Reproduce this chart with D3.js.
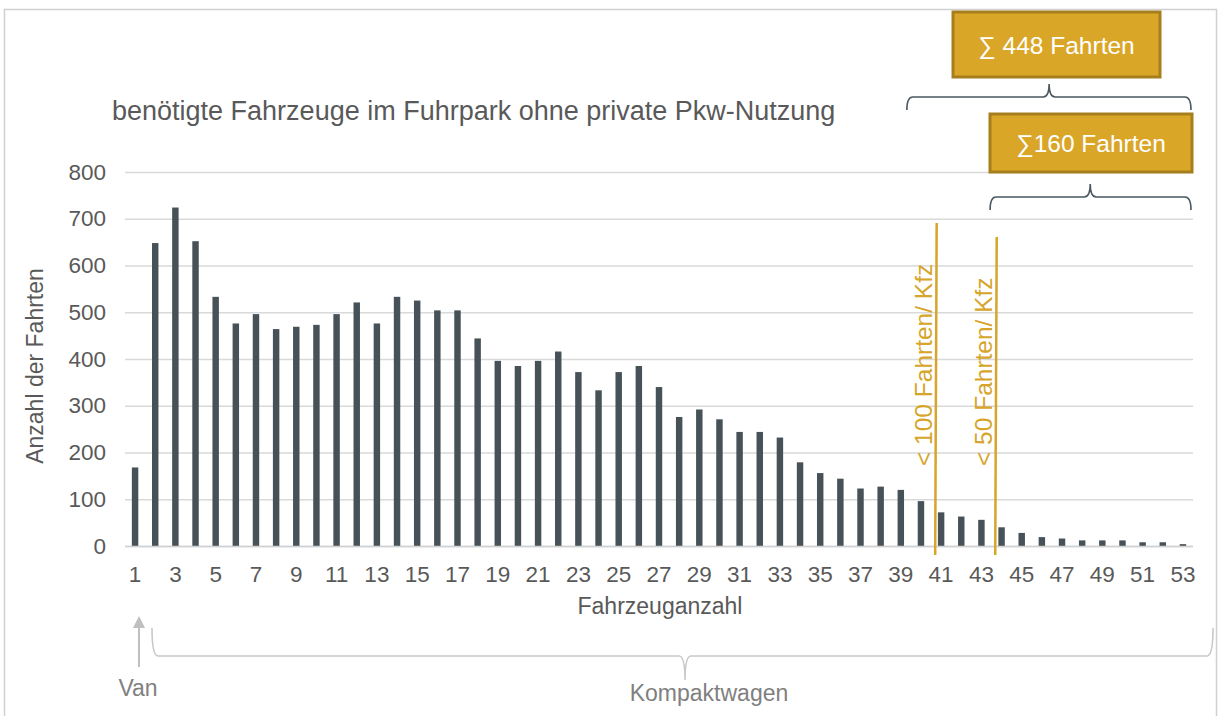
<!DOCTYPE html>
<meta charset="utf-8">
<style>
  body { margin: 0; background: #fff; }
  svg text { font-family: "Liberation Sans", Arial, sans-serif; }
  .tick text { fill: #595959; font-size: 22.5px; }
  .grid line { stroke: #d9d9d9; stroke-width: 1.3; }
  .gold { fill: #d6a52a; font-size: 24.5px; }
</style>
<script src="https://cdn.jsdelivr.net/npm/d3@7"></script>
<body>
<script>

  var w = 1219;
  var h = 716;

  // Fahrzeuganzahl 1..53
  var vehicles = d3.range(1, 54);
  // Anzahl der Fahrten per vehicle
  var trips = [168, 648, 724, 652, 533, 476, 496, 464, 469, 473,
               496, 521, 476, 533, 525, 504, 504, 444, 396, 385,
               396, 416, 372, 333, 372, 385, 340, 276, 292, 271,
               244, 244, 232, 179, 156, 144, 123, 127, 120, 96,
               72, 63, 56, 40, 28, 19, 16, 12, 12, 12,
               8, 8, 4];
  var yTicks = [0, 100, 200, 300, 400, 500, 600, 700, 800];
  var xTickLabels = vehicles.filter(function (d) { return d % 2 === 1; });

  // threshold markers (category position) and sums
  var thresholds = [
    { pos: 40.78, top: 223, label: "< 100 Fahrten/ Kfz" },
    { pos: 43.76, top: 237, label: "< 50 Fahrten/ Kfz" }
  ];
  var sums = [
    { from: 39.3, to: 53.4, tip: 46.36, label: "\u2211 448 Fahrten", yh: 97, boxX: 953, boxY: 12, boxW: 207, boxH: 65 },
    { from: 43.43, to: 53.4, tip: 48.4, label: "\u2211160 Fahrten", yh: 197, boxX: 990, boxY: 114, boxW: 202, boxH: 58 }
  ];

  var pLeft = 125, pRight = 1193, pTop = 172, pBottom = 546;

  var svg = d3.select("body").append("svg")
              .attr("width", w)
              .attr("height", h);

  // outer frame
  svg.append("rect")
     .attr("x", 4.5).attr("y", 9.5)
     .attr("width", 1212).attr("height", 720)
     .attr("fill", "none")
     .attr("stroke", "#d0d0d0")
     .attr("stroke-width", 1.5);

  var x = d3.scaleBand()
            .domain(vehicles)
            .range([pLeft, pRight])
            .paddingInner(0.68)
            .paddingOuter(0.34);

  // continuous helper for annotation positions between categories
  var xl = d3.scaleLinear().domain([0.5, 53.5]).range([pLeft, pRight]);

  var y = d3.scaleLinear().domain([0, 800]).range([pBottom, pTop]);

  // gridlines
  svg.append("g")
     .attr("class", "grid")
     .attr("transform", "translate(" + pLeft + ",0)")
     .call(d3.axisLeft(y).tickValues(yTicks).tickSize(-(pRight - pLeft)).tickFormat(""))
     .call(function (g) { g.select(".domain").remove(); });

  // y labels
  svg.append("g")
     .attr("transform", "translate(" + 106 + ",0)")
     .call(d3.axisLeft(y).tickValues(yTicks).tickSize(0).tickPadding(0))
     .call(function (g) { g.select(".domain").remove(); });

  // x labels
  svg.append("g")
     .attr("transform", "translate(0," + pBottom + ")")
     .call(d3.axisBottom(x).tickValues(xTickLabels).tickSize(0).tickPadding(20))
     .call(function (g) { g.select(".domain").remove(); });

  svg.selectAll("rect.bar")
     .data(trips)
     .enter()
     .append("rect")
     .attr("class", "bar")
     .attr("x", function (d, i) { return x(vehicles[i]); })
     .attr("width", x.bandwidth())
     .attr("y", function (d) { return y(d); })
     .attr("height", function (d) { return pBottom - y(d); })
     .attr("fill", "#475258");

  // baseline
  svg.append("line")
     .attr("x1", pLeft).attr("x2", pRight)
     .attr("y1", pBottom + 0.5).attr("y2", pBottom + 0.5)
     .attr("stroke", "#d0d0d0").attr("stroke-width", 1.3);

  // titles
  svg.append("text")
     .attr("x", 112).attr("y", 120)
     .attr("fill", "#595959")
     .style("font-size", "27px")
     .text("benötigte Fahrzeuge im Fuhrpark ohne private Pkw-Nutzung");

  svg.append("text")
     .attr("x", 660).attr("y", 614)
     .attr("text-anchor", "middle")
     .attr("fill", "#595959")
     .style("font-size", "23px")
     .text("Fahrzeuganzahl");

  svg.append("text")
     .attr("transform", "translate(43,366) rotate(-90)")
     .attr("text-anchor", "middle")
     .attr("fill", "#595959")
     .style("font-size", "23px")
     .text("Anzahl der Fahrten");

  // threshold lines
  thresholds.forEach(function (t) {
    var xp = xl(t.pos);
    svg.append("line")
       .attr("x1", xp).attr("x2", xp - 1.5)
       .attr("y1", t.top).attr("y2", 555)
       .attr("stroke", "#d6a52a").attr("stroke-width", 2.5);
    svg.append("text")
       .attr("class", "gold")
       .attr("transform", "translate(" + (xp - 5) + ",466) rotate(-90)")
       .text(t.label);
  });

  function brace(x1, x2, xt, yh, yEnd, yTip) {
    var r = 6;
    return "M" + x1 + "," + yEnd +
           " Q" + x1 + "," + yh + " " + (x1 + r) + "," + yh +
           " L" + (xt - r) + "," + yh +
           " Q" + xt + "," + yh + " " + xt + "," + yTip +
           " Q" + xt + "," + yh + " " + (xt + r) + "," + yh +
           " L" + (x2 - r) + "," + yh +
           " Q" + x2 + "," + yh + " " + x2 + "," + yEnd;
  }

  sums.forEach(function (s) {
    svg.append("path")
       .attr("d", brace(xl(s.from), xl(s.to), xl(s.tip), s.yh, s.yh + 13, s.yh - 13))
       .attr("fill", "none")
       .attr("stroke", "#4a5860")
       .attr("stroke-width", 1.6);
    svg.append("rect")
       .attr("x", s.boxX).attr("y", s.boxY)
       .attr("width", s.boxW).attr("height", s.boxH)
       .attr("fill", "#daa628")
       .attr("stroke", "#a77e1c")
       .attr("stroke-width", 3);
    svg.append("text")
       .attr("x", s.boxX + s.boxW / 2).attr("y", s.boxY + s.boxH / 2 + 9)
       .attr("text-anchor", "middle")
       .attr("fill", "#ffffff")
       .style("font-size", "24.5px")
       .text(s.label);
  });

  // Van arrow
  svg.append("defs").append("marker")
     .attr("id", "arr")
     .attr("viewBox", "0 0 10 10")
     .attr("refX", 5).attr("refY", 5)
     .attr("markerWidth", 6).attr("markerHeight", 6)
     .attr("orient", "auto")
     .append("path")
     .attr("d", "M0,0 L10,5 L0,10 z")
     .attr("fill", "#bfbfbf");

  svg.append("line")
     .attr("x1", 139).attr("x2", 139)
     .attr("y1", 667).attr("y2", 622)
     .attr("stroke", "#bfbfbf").attr("stroke-width", 2)
     .attr("marker-end", "url(#arr)");

  svg.append("text")
     .attr("x", 138).attr("y", 696)
     .attr("text-anchor", "middle")
     .attr("fill", "#808080")
     .style("font-size", "23px")
     .text("Van");

  // Kompaktwagen brace
  svg.append("path")
     .attr("d", brace(152, 1213, 685, 656, 628, 680))
     .attr("fill", "none")
     .attr("stroke", "#c8c8c8")
     .attr("stroke-width", 1.6);

  svg.append("text")
     .attr("x", 709).attr("y", 701)
     .attr("text-anchor", "middle")
     .attr("fill", "#808080")
     .style("font-size", "23px")
     .text("Kompaktwagen");

</script>
</body>
